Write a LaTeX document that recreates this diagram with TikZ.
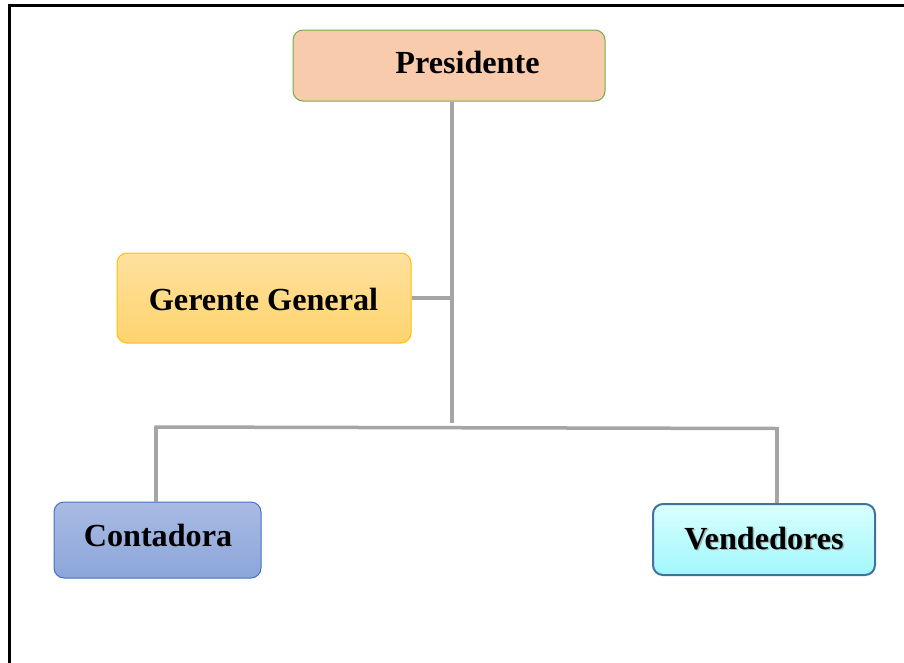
\documentclass[tikz,border=0pt]{standalone}
\usepackage{fontspec}
\setmainfont{Liberation Serif}
\definecolor{linegray}{HTML}{A5A5A5}
\definecolor{presfill}{HTML}{F7CBAC}
\definecolor{presline}{HTML}{70AD47}
\definecolor{gertop}{HTML}{FFE09E}
\definecolor{gerbot}{HTML}{FFD46E}
\definecolor{gerline}{HTML}{FFC000}
\definecolor{contop}{HTML}{A9BBE3}
\definecolor{conbot}{HTML}{8CA5DA}
\definecolor{conline}{HTML}{4472C4}
\definecolor{vendtop}{HTML}{DAFFFF}
\definecolor{vendbot}{HTML}{A0F7FC}
\definecolor{vendline}{HTML}{41719C}
\begin{document}
\begin{tikzpicture}[x=1pt,y=-1pt,
  box/.style={rectangle, rounded corners=10pt, inner sep=0pt},
  lbl/.style={anchor=base, inner sep=0pt, font=\fontsize{32.2}{36}\selectfont\bfseries},
  link/.style={draw=linegray, line width=3.5pt}]
\useasboundingbox (0,0) rectangle (904,662);
% outer frame (only top and left edges fall inside the page)
\draw[line width=2.5pt] (9.5,670) -- (9.5,5.5) -- (910,5.5);

% boxes
\node[box, draw=presline, line width=1pt, fill=presfill,
      minimum width=312pt, minimum height=71pt] (pres) at (449,65.5) {};
\node[box, draw=gerline, line width=1pt, top color=gertop, bottom color=gerbot,
      minimum width=294pt, minimum height=90pt] (ger) at (264,298) {};
\node[box, draw=conline, line width=1pt, top color=contop, bottom color=conbot,
      minimum width=207pt, minimum height=76pt] (cont) at (157.5,540) {};
\node[box, draw=vendline, line width=2pt, shading=axis, shading angle=150,
      top color=vendtop, bottom color=vendbot,
      minimum width=222pt, minimum height=71pt] (vend) at (764,539.5) {};

% labels
\node[lbl] (presT) at (467.5,73) {Presidente};
\node[lbl] (gerT) at (263.5,310) {Gerente General};
\node[lbl] (conT) at (158,546) {Contadora};
\node[lbl, text=black!45, opacity=0.6] (vendS) at (765.5,550.5) {Vendedores};
\node[lbl] (vendT) at (764,549) {Vendedores};

% connector junctions
\coordinate (trunk) at (452,423);
\coordinate (busL) at (156,427);
\coordinate (busR) at (777,428.5);

% connectors
\draw[link] (pres.south -| trunk) -- (trunk);
\draw[link] (ger.east) -- (ger.east -| trunk);
\draw[link] ([xshift=-1.75pt]busL) -- ([xshift=1.75pt]busR);
\draw[link] (busL) -- (busL |- cont.north);
\draw[link] (busR) -- (busR |- vend.north);
\end{tikzpicture}
\end{document}
